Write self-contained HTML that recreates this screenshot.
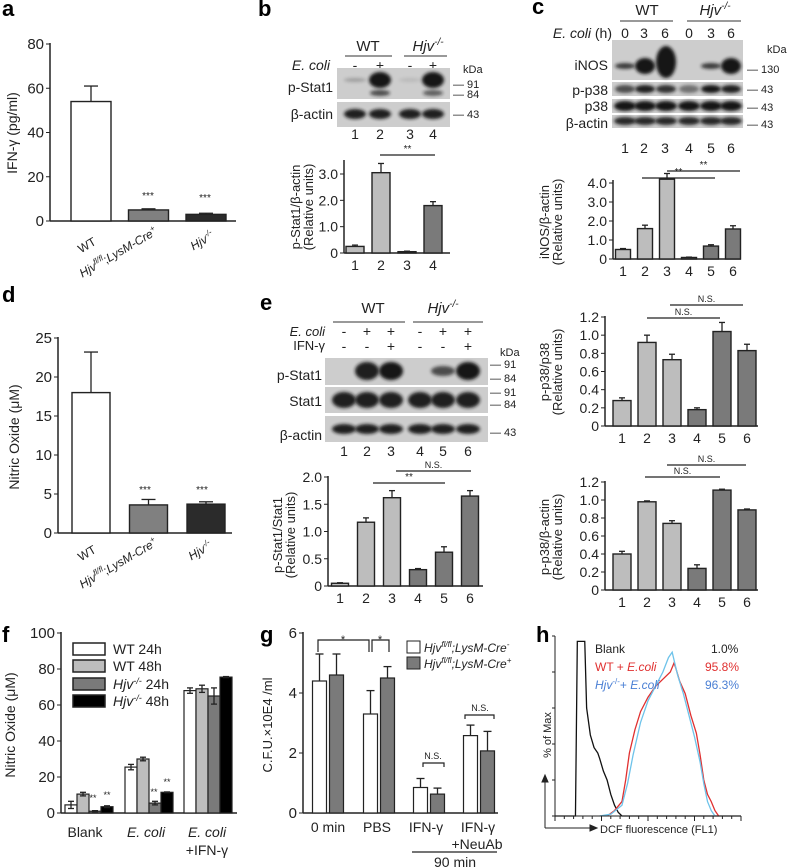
<!DOCTYPE html>
<html><head><meta charset="utf-8"><style>
body{margin:0;background:#fff}
svg{display:block;font-family:"Liberation Sans",Arial,sans-serif}
.pl{font-weight:bold;font-size:22px}
.t{font-size:14px;fill:#222}
.s{font-size:11px;fill:#222}
.i{font-style:italic}
</style></head><body>
<svg id="fig" width="787" height="868" viewBox="0 0 787 868" xmlns="http://www.w3.org/2000/svg">
<defs><filter id="bl" x="-30%" y="-80%" width="160%" height="260%"><feGaussianBlur stdDeviation="1.6"/></filter></defs>
<g>
<text class="pl" x="2" y="16">a</text><text class="pl" x="258" y="16">b</text><text class="pl" x="532" y="14">c</text>
<text class="pl" x="2" y="302">d</text><text class="pl" x="260" y="310">e</text>
<text class="pl" x="2" y="642">f</text><text class="pl" x="260" y="642">g</text><text class="pl" x="536" y="642">h</text>
</g>
<g font-size="14" fill="#222">
<text transform="translate(17,133) rotate(-90)" text-anchor="middle">IFN-γ (pg/ml)</text>
<text transform="translate(19,437) rotate(-90)" text-anchor="middle">Nitric Oxide (μM)</text>
<text transform="translate(300,207) rotate(-90)" text-anchor="middle" font-size="13">p-Stat1/β-actin</text>
<text transform="translate(313,207) rotate(-90)" text-anchor="middle" font-size="13">(Relative units)</text>
<text transform="translate(549,222) rotate(-90)" text-anchor="middle" font-size="13">iNOS/β-actin</text>
<text transform="translate(562,222) rotate(-90)" text-anchor="middle" font-size="13">(Relative units)</text>
<text transform="translate(282,535) rotate(-90)" text-anchor="middle" font-size="13">p-Stat1/Stat1</text>
<text transform="translate(295,535) rotate(-90)" text-anchor="middle" font-size="13">(Relative units)</text>
<text transform="translate(549,372) rotate(-90)" text-anchor="middle" font-size="13">p-p38/p38</text>
<text transform="translate(562,372) rotate(-90)" text-anchor="middle" font-size="13">(Relative units)</text>
<text transform="translate(549,537) rotate(-90)" text-anchor="middle" font-size="13">p-p38/β-actin</text>
<text transform="translate(562,537) rotate(-90)" text-anchor="middle" font-size="13">(Relative units)</text>
<text transform="translate(15,725) rotate(-90)" text-anchor="middle">Nitric Oxide (μM)</text>
<text transform="translate(272,725) rotate(-90)" text-anchor="middle" font-size="13">C.F.U.×10E4 /ml</text>
<text transform="translate(551,735) rotate(-90)" text-anchor="middle" font-size="11">% of Max</text>
</g>
<g font-size="12" fill="#222" text-anchor="end">
<text transform="translate(97,244) rotate(-30)">WT</text>
<text transform="translate(158,234) rotate(-30)"><tspan class="i">Hjv<tspan font-size="8" dy="-5">fl/fl</tspan></tspan><tspan dy="5">;</tspan><tspan class="i">LysM-Cre<tspan font-size="8" dy="-5">+</tspan></tspan></text>
<text transform="translate(215,238) rotate(-30)"><tspan class="i">Hjv<tspan font-size="8" dy="-5">-/-</tspan></tspan></text>
</g>
<g font-size="12" fill="#222" text-anchor="end">
<text transform="translate(97,552) rotate(-30)">WT</text>
<text transform="translate(158,545) rotate(-30)"><tspan class="i">Hjv<tspan font-size="8" dy="-5">fl/fl</tspan></tspan><tspan dy="5">;</tspan><tspan class="i">LysM-Cre<tspan font-size="8" dy="-5">+</tspan></tspan></text>
<text transform="translate(213,548) rotate(-30)"><tspan class="i">Hjv<tspan font-size="8" dy="-5">-/-</tspan></tspan></text>
</g>
<g class="t">
<text x="368" y="51" text-anchor="middle" font-size="15">WT</text><line x1="345" y1="56" x2="392" y2="56" stroke="#333"/>
<text x="428" y="51" text-anchor="middle" font-size="15" class="i">Hjv<tspan font-size="10" dy="-6">-/-</tspan></text><line x1="404" y1="56" x2="447" y2="56" stroke="#333"/>
<text x="330" y="70" text-anchor="end" class="i" font-size="14">E. coli</text>
<text x="355" y="70" text-anchor="middle">-</text><text x="380" y="70" text-anchor="middle">+</text><text x="410" y="70" text-anchor="middle">-</text><text x="433" y="70" text-anchor="middle">+</text>
<text x="333" y="92" text-anchor="end" font-size="14">p-Stat1</text><text x="333" y="119" text-anchor="end" font-size="14">β-actin</text>
<text x="463" y="73" class="s">kDa</text>
<text x="453" y="88" class="s">— 91</text><text x="453" y="98" class="s">— 84</text><text x="453" y="118" class="s">— 43</text>
<text x="355" y="139" text-anchor="middle">1</text><text x="380" y="139" text-anchor="middle">2</text><text x="410" y="139" text-anchor="middle">3</text><text x="433" y="139" text-anchor="middle">4</text>
</g>
<g class="t">
<text x="647" y="15" text-anchor="middle" font-size="15">WT</text><line x1="620" y1="21" x2="673" y2="21" stroke="#333"/>
<text x="715" y="15" text-anchor="middle" font-size="15" class="i">Hjv<tspan font-size="10" dy="-6">-/-</tspan></text><line x1="687" y1="21" x2="741" y2="21" stroke="#333"/>
<text x="612" y="38" text-anchor="end" font-size="14"><tspan class="i">E. coli</tspan> (h)</text>
<text x="625" y="38" text-anchor="middle">0</text><text x="644" y="38" text-anchor="middle">3</text><text x="665" y="38" text-anchor="middle">6</text><text x="689" y="38" text-anchor="middle">0</text><text x="711" y="38" text-anchor="middle">3</text><text x="731" y="38" text-anchor="middle">6</text>
<text x="608" y="70" text-anchor="end" font-size="14">iNOS</text><text x="608" y="95" text-anchor="end" font-size="14">p-p38</text><text x="608" y="111" text-anchor="end" font-size="14">p38</text><text x="608" y="128" text-anchor="end" font-size="14">β-actin</text>
<text x="767" y="53" class="s">kDa</text>
<text x="747" y="73" class="s">— 130</text><text x="747" y="93" class="s">— 43</text><text x="747" y="111" class="s">— 43</text><text x="747" y="128" class="s">— 43</text>
<text x="625" y="153" text-anchor="middle">1</text><text x="644" y="153" text-anchor="middle">2</text><text x="665" y="153" text-anchor="middle">3</text><text x="689" y="153" text-anchor="middle">4</text><text x="711" y="153" text-anchor="middle">5</text><text x="731" y="153" text-anchor="middle">6</text>
</g>
<g class="t">
<text x="373" y="313" text-anchor="middle" font-size="15">WT</text><line x1="333" y1="322" x2="405" y2="322" stroke="#333"/>
<text x="443" y="313" text-anchor="middle" font-size="15" class="i">Hjv<tspan font-size="10" dy="-6">-/-</tspan></text><line x1="413" y1="322" x2="483" y2="322" stroke="#333"/>
<text x="325" y="336" text-anchor="end" class="i" font-size="13">E. coli</text><text x="325" y="350" text-anchor="end" font-size="13">IFN-γ</text>
<text x="344" y="336" text-anchor="middle">-</text><text x="367" y="336" text-anchor="middle">+</text><text x="391" y="336" text-anchor="middle">+</text><text x="420" y="336" text-anchor="middle">-</text><text x="443" y="336" text-anchor="middle">+</text><text x="468" y="336" text-anchor="middle">+</text>
<text x="344" y="351" text-anchor="middle">-</text><text x="367" y="351" text-anchor="middle">-</text><text x="391" y="351" text-anchor="middle">+</text><text x="420" y="351" text-anchor="middle">-</text><text x="443" y="351" text-anchor="middle">-</text><text x="468" y="351" text-anchor="middle">+</text>
<text x="322" y="380" text-anchor="end" font-size="14">p-Stat1</text><text x="322" y="406" text-anchor="end" font-size="14">Stat1</text><text x="322" y="440" text-anchor="end" font-size="14">β-actin</text>
<text x="500" y="356" class="s">kDa</text>
<text x="490" y="368" class="s">— 91</text><text x="490" y="382" class="s">— 84</text><text x="490" y="396" class="s">— 91</text><text x="490" y="408" class="s">— 84</text><text x="490" y="436" class="s">— 43</text>
<text x="344" y="456" text-anchor="middle">1</text><text x="367" y="456" text-anchor="middle">2</text><text x="391" y="456" text-anchor="middle">3</text><text x="420" y="456" text-anchor="middle">4</text><text x="443" y="456" text-anchor="middle">5</text><text x="468" y="456" text-anchor="middle">6</text>
</g>
<g id="dyn"></g>
<g font-size="14" fill="#222">
<rect x="73" y="643" width="32" height="12" fill="#fff" stroke="#222" stroke-width="1.5"/><text x="113" y="654">WT 24h</text>
<rect x="73" y="660" width="32" height="12" fill="#bdbdbd" stroke="#222" stroke-width="1.5"/><text x="113" y="671">WT 48h</text>
<rect x="73" y="678" width="32" height="12" fill="#7a7a7a" stroke="#222" stroke-width="1.5"/><text x="113" y="689"><tspan class="i">Hjv<tspan font-size="9" dy="-5">-/-</tspan></tspan><tspan dy="5"> 24h</tspan></text>
<rect x="73" y="695" width="32" height="12" fill="#000" stroke="#222" stroke-width="1.5"/><text x="113" y="706"><tspan class="i">Hjv<tspan font-size="9" dy="-5">-/-</tspan></tspan><tspan dy="5"> 48h</tspan></text>
</g>
<g font-size="14" fill="#222" text-anchor="middle">
<text x="85" y="837">Blank</text><text x="146" y="837" class="i">E. coli</text><text x="207" y="837" class="i">E. coli</text><text x="207" y="855">+IFN-γ</text>
<text x="93" y="801" font-size="9">**</text><text x="107" y="798" font-size="9">**</text><text x="154" y="795" font-size="9">**</text><text x="167" y="785" font-size="9">**</text>
</g>
<g font-size="14" fill="#222" text-anchor="middle">
<text x="328" y="832">0 min</text><text x="377" y="832">PBS</text><text x="426" y="832">IFN-γ</text><text x="478" y="832">IFN-γ</text><text x="477" y="849">+NeuAb</text>
<line x1="412" y1="852" x2="497" y2="852" stroke="#222" stroke-width="1.3"/><text x="455" y="867">90 min</text>
</g>
<g fill="none" stroke="#222" stroke-width="1.2">
<path d="M318 652V640H369V652"/><path d="M372 652V640H389V652"/>
<path d="M423 767V763H444V767"/><path d="M465 719V715H494V719"/>
</g>
<g font-size="11" fill="#222" text-anchor="middle">
<text x="343" y="643">*</text><text x="380" y="643">*</text><text x="433" y="759" font-size="9">N.S.</text><text x="480" y="711" font-size="9">N.S.</text>
</g>
<g font-size="12" fill="#222" class="i">
<rect x="407" y="641" width="13" height="12" fill="#fff" stroke="#222"/><text x="424" y="652">Hjv<tspan font-size="8" dy="-5">fl/fl</tspan><tspan dy="5">;LysM-Cre</tspan><tspan font-size="8" dy="-5">-</tspan></text>
<rect x="407" y="657" width="13" height="12" fill="#7a7a7a" stroke="#222"/><text x="424" y="668">Hjv<tspan font-size="8" dy="-5">fl/fl</tspan><tspan dy="5">;LysM-Cre</tspan><tspan font-size="8" dy="-5">+</tspan></text>
</g>
<g stroke="#222" fill="none">
<line x1="555" y1="636" x2="555" y2="817"/><line x1="555" y1="816" x2="741" y2="816"/>
<line x1="545" y1="828" x2="545" y2="778"/><path d="M542 782L545 775L548 782Z" fill="#222"/>
<line x1="545" y1="828" x2="593" y2="828"/><path d="M590 825L597 828L590 831Z" fill="#222"/>
</g>
<g font-size="12">
<text x="595" y="653" fill="#222">Blank</text><text x="711" y="653" fill="#222">1.0%</text>
<text x="595" y="671" fill="#e03030">WT + <tspan class="i">E.coli</tspan></text><text x="705" y="671" fill="#e03030">95.8%</text>
<text x="595" y="689" fill="#4a7fd4"><tspan class="i">Hjv</tspan><tspan font-size="8" dy="-5">-/-</tspan><tspan dy="5">+ </tspan><tspan class="i">E.coli</tspan></text><text x="705" y="689" fill="#4a7fd4">96.3%</text>
<text x="600" y="833" font-size="11" fill="#222">DCF fluorescence (FL1)</text>
</g>
</svg>
<script>
const catsA=['WT','Hjv fl/fl;LysM-Cre+','Hjv-/-'];
const valsA=[54,5,3];const errA=[61,5.5,3.5];
const valsB=[0.25,3.05,0.05,1.8];const errB=[0.3,3.4,0.07,1.95];
const valsC=[0.5,1.6,4.2,0.08,0.68,1.58];const errC=[0.55,1.78,4.5,0.1,0.75,1.75];
const valsD=[18,3.6,3.7];const errD=[23.2,4.3,4.0];
const valsE=[0.05,1.17,1.62,0.3,0.62,1.65];const errE=[0.06,1.25,1.75,0.32,0.72,1.75];
const valsP38=[0.28,0.92,0.73,0.18,1.04,0.83];const errP38=[0.31,1.0,0.79,0.2,1.14,0.9];
const valsPB=[0.4,0.98,0.74,0.24,1.11,0.89];const errPB=[0.43,0.99,0.77,0.28,1.12,0.9];
const catsF=['Blank','E. coli','E. coli+IFN-γ'];
const fWT24=[4.5,25.5,68],fWT48=[10.5,30,69],fH24=[1,5.5,65],fH48=[3.5,11.5,75.5];
const eWT24=[2,1.5,1.5],eWT48=[1,1,2],eH24=[0.3,1,4.5],eH48=[0.5,0.2,0.3];
const catsG=['0 min','PBS','IFN-γ','IFN-γ+NeuAb'];
const gMinus=[4.4,3.3,0.85,2.58],gPlus=[4.6,4.5,0.63,2.07];
const egMinus=[5.3,4.08,1.15,2.93],egPlus=[5.3,4.88,0.83,2.72];
const ticksA=[0,20,40,60,80],ticksB=[0,1,2,3],ticksC=[0,1,2,3,4],ticksD=[0,5,10,15,20,25];
const ticksE=[0,0.5,1,1.5,2],ticksP=[0,0.2,0.4,0.6,0.8,1.0,1.2],ticksF=[0,20,40,60,80,100],ticksG=[0,2,4,6];
const hX=[0,10,11,12,16,17,19,21,23,24,26,28,30,32,34,36,50,100];
const hBlank=[0,0,0,97,97,60,45,38,35,32,25,20,12,6,2,0,0,0];
const hRedX=[28,32,36,38,40,43,46,50,54,58,62,64,65,67,70,73,76,78,80,82,84,86,88];
const hRed=[0,3,8,20,35,48,58,66,72,76,80,85,82,75,68,56,46,34,20,12,8,3,0];
const hBlueX=[24,30,36,39,42,46,50,54,58,61,63,66,69,72,75,78,80,82,84,86];
const hBlue=[0,1,6,18,34,52,64,72,80,88,91,78,68,56,44,30,18,8,3,0];

const NS='http://www.w3.org/2000/svg';const root=document.getElementById('dyn');
function mk(tag,a,p){const e=document.createElementNS(NS,tag);for(const k in a)e.setAttribute(k,a[k]);(p||root).appendChild(e);return e;}
const L='#bdbdbd',D='#7a7a7a';
function fmt(v,dec){return v===0?'0':v.toFixed(dec);}
function axes(o,ticks,dec,name){
  const g=mk('g',{});
  
  
  const sy=v=>o.base-(v/o.max)*(o.base-o.top);
  mk('line',{x1:o.ax,y1:o.axTop,x2:o.ax,y2:o.base,stroke:'#222','stroke-width':1.5},g);
  mk('line',{x1:o.ax,y1:o.base,x2:o.xEnd,y2:o.base,stroke:'#222','stroke-width':1.5},g);
  ticks.forEach(t=>{mk('line',{x1:o.ax-4,y1:sy(t),x2:o.ax,y2:sy(t),stroke:'#222'},g);
    const tx=mk('text',{x:o.ax-6,y:sy(t)+5,'text-anchor':'end','font-size':o.fs,fill:'#222'},g);
    
    
    tx.textContent=fmt(t,dec);});
  return sy;
}
function bars(o,vals,errs,fills,ticks,dec,name,labels){
  const sy=axes(o,ticks,dec,name);
  vals.forEach((v,i)=>{const cx=o.c0+i*o.step;
    const r=mk('rect',{x:cx-o.w/2,y:sy(v),width:o.w,height:o.base-sy(v),fill:fills[i],stroke:'#222','stroke-width':1.4});
    
    
    mk('line',{x1:cx,y1:sy(v),x2:cx,y2:sy(errs[i]),stroke:'#222','stroke-width':1.3});
    mk('line',{x1:cx-o.cap,y1:sy(errs[i]),x2:cx+o.cap,y2:sy(errs[i]),stroke:'#222','stroke-width':1.3});
    if(labels){const t=mk('text',{x:cx,y:o.base+17,'text-anchor':'middle','font-size':14,fill:'#222'});
      
      
      t.textContent=labels[i];}
  });
}
const six=['1','2','3','4','5','6'];
bars({ax:50,base:221,top:44,max:80,axTop:43,xEnd:236,c0:91,step:57.5,w:40,cap:7,fs:15},valsA,errA,['#fff','#808080','#2b2b2b'],ticksA,0,'chart-a');
bars({ax:344,base:253,top:174,max:3,axTop:160,xEnd:450,c0:355,step:26,w:18,cap:3,fs:14},valsB,errB,[L,L,D,D],ticksB,1,'chart-b',['1','2','3','4']);
bars({ax:613,base:259,top:183,max:4,axTop:180,xEnd:741,c0:623,step:22,w:15,cap:3,fs:14},valsC,errC,[L,L,L,D,D,D],ticksC,1,'chart-c',six);
bars({ax:58,base:533,top:338,max:25,axTop:337,xEnd:232,c0:91,step:57.5,w:38,cap:7,fs:15},valsD,errD,['#fff','#808080','#2b2b2b'],ticksD,0,'chart-d');
bars({ax:328,base:586,top:477,max:2,axTop:476,xEnd:483,c0:340,step:26,w:17,cap:3,fs:14},valsE,errE,[L,L,L,D,D,D],ticksE,1,'chart-e',six);
bars({ax:605,base:426,top:317,max:1.2,axTop:316,xEnd:758,c0:622,step:25,w:18,cap:3,fs:14},valsP38,errP38,[L,L,L,D,D,D],ticksP,1,'chart-p38',six);
bars({ax:605,base:590,top:482,max:1.2,axTop:481,xEnd:758,c0:622,step:25,w:18,cap:3,fs:14},valsPB,errPB,[L,L,L,D,D,D],ticksP,1,'chart-pb',six);
function sig(x1,x2,y,txt){const l=mk('line',{x1:x1,y1:y,x2:x2,y2:y,stroke:'#222','stroke-width':1.2});
  
  
  const t=mk('text',{x:(x1+x2)/2,y:y-3,'text-anchor':'middle','font-size':txt=='**'?10:9,fill:'#222'});
  
  
  t.textContent=txt;}
sig(380,435,155,'**');sig(642,715,178,'**');sig(667,740,171,'**');
sig(373,445,483,'**');sig(396,471,471,'N.S.');
sig(647,720,318,'N.S.');sig(670,743,305,'N.S.');sig(645,720,477,'N.S.');sig(667,746,465,'N.S.');
function star(x,y){const t=mk('text',{x:x,y:y,'text-anchor':'middle','font-size':10,fill:'#222'});
  
  
  t.textContent='***';}
star(148,199);star(205,201);star(145,493);star(202,493);
{const o={ax:61,base:813,top:633,max:100,axTop:632,xEnd:237,fs:15};const sy=axes(o,ticksF,0,'chart-f');
 const series=[fWT24,fWT48,fH24,fH48],errs=[eWT24,eWT48,eH24,eH48],fl=['#fff','#bdbdbd','#7a7a7a','#000'];
 const gc=[89,149,208];
 series.forEach((s,k)=>s.forEach((v,i)=>{const cx=gc[i]+(k-1.5)*12;
   const r=mk('rect',{x:cx-6,y:sy(v),width:12,height:o.base-sy(v),fill:fl[k],stroke:'#222','stroke-width':1.2});
   
   
   const e=errs[k][i];
   mk('line',{x1:cx,y1:sy(v+e),x2:cx,y2:sy(v-e),stroke:'#222','stroke-width':1.3});
   mk('line',{x1:cx-3,y1:sy(v+e),x2:cx+3,y2:sy(v+e),stroke:'#222','stroke-width':1.3});
   mk('line',{x1:cx-3,y1:sy(v-e),x2:cx+3,y2:sy(v-e),stroke:'#222','stroke-width':1.3});
 }));}
{const o={ax:303,base:813,top:633,max:6,axTop:632,xEnd:498,fs:15};const sy=axes(o,ticksG,0,'chart-g');
 const gc=[328,379,429,479];
 [[gMinus,egMinus,'#fff'],[gPlus,egPlus,'#7a7a7a']].forEach((sr,k)=>sr[0].forEach((v,i)=>{const cx=gc[i]+(k?8.5:-8.5);
   const r=mk('rect',{x:cx-7,y:sy(v),width:14,height:o.base-sy(v),fill:sr[2],stroke:'#222','stroke-width':1.2});
   
   
   mk('line',{x1:cx,y1:sy(v),x2:cx,y2:sy(sr[1][i]),stroke:'#222','stroke-width':1.3});
   mk('line',{x1:cx-4,y1:sy(sr[1][i]),x2:cx+4,y2:sy(sr[1][i]),stroke:'#222','stroke-width':1.3});
 }));}
{const hx=v=>555+v*1.86,hy=v=>816-v*1.8;
 for(let t=0;t<=100;t+=5){mk('line',{x1:hx(t),y1:816,x2:hx(t),y2:t%25?819:821,stroke:'#222'});}
 for(let t=0;t<=100;t+=20){mk('line',{x1:552,y1:hy(t),x2:555,y2:hy(t),stroke:'#222'});}
 function curve(xs,ys,col,name){const p=mk('polyline',{points:xs.map((x,i)=>hx(x)+','+hy(ys[i])).join(' '),fill:'none',stroke:col,'stroke-width':1.3});
   
   }
 curve(hX,hBlank,'#111','blank-curve');curve(hRedX,hRed,'#e03030','wt-ecoli-curve');curve(hBlueX,hBlue,'#6ec3ea','hjv-ecoli-curve');}
function blot(x,y,w,h,name){const r=mk('rect',{x:x,y:y,width:w,height:h,fill:'#cdcdcd'});
  
  }
function band(cx,cy,rx,ry,op){mk('ellipse',{cx:cx,cy:cy,rx:rx,ry:ry,fill:'#141414',opacity:op,filter:'url(#bl)'});}
const bLanes=[355,380,410,433];
blot(337,68,113,31,'blot-b-pstat1');blot(337,102,113,25,'blot-b-actin');
[0.25,1,0.1,1].forEach((o,i)=>band(bLanes[i],80,11,o>0.5?8:2,o));
[0,0.7,0,0.6].forEach((o,i)=>band(bLanes[i],93,10,3,o));
bLanes.forEach(x=>band(x,114,11,5,0.95));
const cL=[625,645,666,689,711,731];
blot(612,40,131,40,'blot-c-inos');blot(612,82,131,14,'blot-c-pp38');blot(612,99,131,14,'blot-c-p38');blot(612,115,131,13,'blot-c-actin');
[[3,0.8],[8,1],[16,1],[0,0],[3,0.8],[8,1]].forEach((b,i)=>{if(b[0])band(cL[i],b[0]>10?62:66,10,b[0],b[1]);});
[0.7,0.95,0.85,0.5,1,0.95].forEach((o,i)=>band(cL[i],89,10,4,o));
cL.forEach(x=>band(x,106,11,5,1));cL.forEach(x=>band(x,121,11,4,0.9));
const eL=[344,367,391,420,443,468];
blot(325,358,163,27,'blot-e-pstat1');blot(325,387,163,26,'blot-e-stat1');blot(325,416,163,26,'blot-e-actin');
[0,0.95,1,0,0.7,1].forEach((o,i)=>{if(o)band(eL[i],371,12,o>0.8?9:5,o);});
eL.forEach(x=>band(x,400,12,8,0.95));eL.forEach(x=>band(x,429,12,5,0.95));
</script>
</body></html>
